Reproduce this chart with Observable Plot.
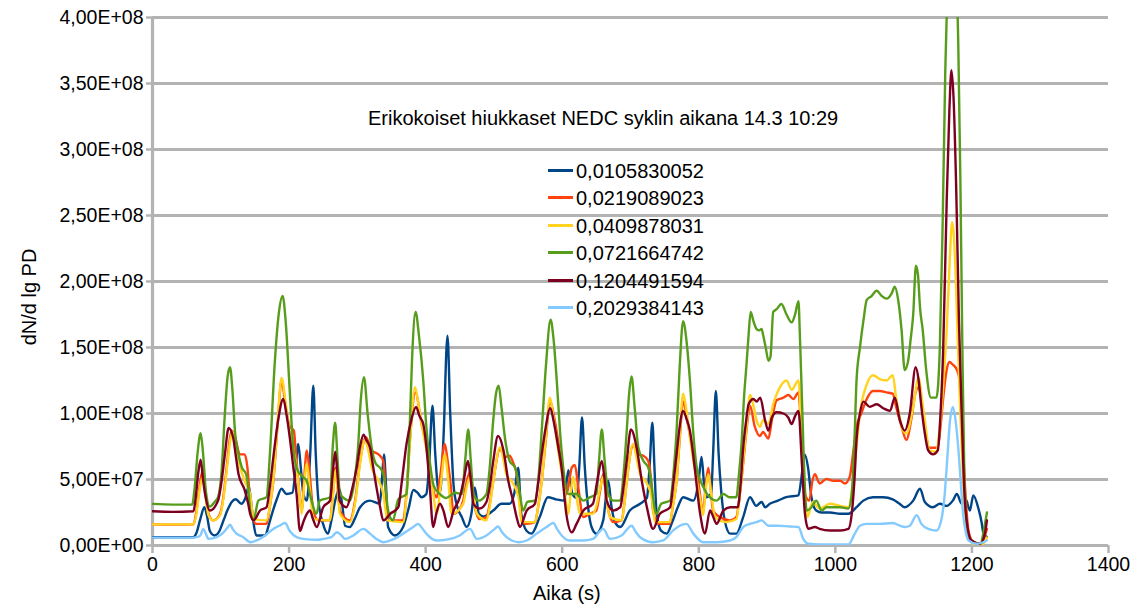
<!DOCTYPE html>
<html><head><meta charset="utf-8">
<script src="https://cdn.jsdelivr.net/npm/d3@7"></script>
<script src="https://cdn.jsdelivr.net/npm/@observablehq/plot@0.6"></script>
<style>
html,body{margin:0;padding:0;background:#fff;}
#wrap{position:relative;width:1146px;height:610px;font-family:"Liberation Sans",Arial,sans-serif;color:#000;}
#wrap svg{position:absolute;left:0;top:0;}
.lbl{position:absolute;font-size:20px;white-space:nowrap;line-height:1;}
.sw{position:absolute;width:25px;height:0;border-top:3.4px solid;}
</style></head><body><div id="wrap"></div>
<script>
const seriesNames = ["0,0105830052","0,0219089023","0,0409878031","0,0721664742","0,1204491594","0,2029384143"];
const seriesColors = ["#004586","#ff420e","#ffd320","#579d1c","#7e0021","#83caff"];
const chartTitle = "Erikokoiset hiukkaset NEDC syklin aikana 14.3 10:29";
const xTitle = "Aika (s)";
const yTitle = "dN/d lg PD";
const xTicks = [0,200,400,600,800,1000,1200,1400];
const yTicks = [0,5e7,1e8,1.5e8,2e8,2.5e8,3e8,3.5e8,4e8];
const unit = 1e7; // values below are in units of 1e7

const s1 = [[0,0.63],[30,0.62],[60,0.63],[64,0.9],[70,2.0],[76,2.9],[80,2.2],[84,1.1],[91,0.76],[98,1.1],[104,1.9],[110,2.7],[116,3.3],[122,3.5],[130,3.16],[136,3.6],[141,4.5],[145,3.0],[148,1.7],[152,0.76],[165,0.76],[170,1.5],[175,2.4],[182,3.5],[189,4.3],[196,3.9],[205,4.0],[209,5.5],[213.5,7.7],[217,6],[221,3.9],[226,3.4],[231,7],[235.5,12.1],[239,7],[243,3.4],[250,1.6],[257,0.9],[262,1.9],[268,3.5],[273.5,4.3],[278,3],[282,1.5],[289,1.4],[296,2.0],[304,2.9],[318,3.4],[333,3.16],[336,5],[339,6.9],[342,4.5],[345,1.4],[355,0.76],[367,1.4],[375,2.8],[382,4.2],[388,4.0],[394,3.66],[401,3.9],[405,6],[410,10.6],[414,7],[418,4.4],[421,4.0],[426,8],[432,15.9],[436,10],[441,4.5],[446,3.0],[453,2.15],[460,1.4],[467,2.4],[472,4.4],[478,2.4],[485,2.2],[499,2.65],[511,3.16],[523,3.16],[530,4],[535.5,5.9],[540,2.4],[548,1.1],[555,0.9],[567,2.15],[579,3.66],[591,3.5],[603,3.4],[609,5.7],[615,3.9],[621,3.6],[625,6],[629,9.7],[633,6],[636,3.9],[643,1.4],[650,0.9],[660,1.9],[667.5,4.9],[672,3],[678,1.7],[685,1.4],[699,2.65],[714,3.16],[724,3.6],[728,6],[732,9.3],[735,6],[738,2.65],[745,1.1],[753,0.9],[762,1.9],[770,3.0],[777,3.66],[792,3.4],[800,5],[804,6.7],[808,4.5],[811,3.66],[818,3.9],[821,7],[825,11.7],[829,7],[833,4],[838,1.9],[846,0.9],[855,0.9],[865,2.15],[875,3.66],[884,3.0],[892,3.3],[897,2.9],[904,3.16],[916,3.4],[928,3.66],[946,3.8],[950,5],[955,6.9],[960,5.9],[965,3.66],[972,2.65],[980,2.5],[992,2.5],[1007,2.4],[1019,2.4],[1031,2.9],[1041,3.4],[1055,3.66],[1070,3.66],[1084,3.5],[1094,3.16],[1101,2.9],[1114,3.4],[1124,4.3],[1131,3.3],[1143,2.9],[1153,3.16],[1163,3.0],[1172,3.4],[1178,3.9],[1185,3.16],[1191,3.5],[1197,2.65],[1202,3.8],[1209,2.9],[1214,1.8],[1217,0.9],[1222,0.63]];

const s2 = [[0,1.6],[30,1.58],[60,1.6],[64,2.5],[69,4.5],[73.5,5.7],[77,4.2],[82,2.4],[89,1.9],[99,2.4],[104,3.8],[108.6,5.9],[113,8.0],[116,8.7],[121,8.2],[128,6.9],[135,6.9],[139,5.9],[142,4.0],[145,2.4],[152,1.64],[167,1.64],[172,3.0],[177,4.9],[183,9],[189,12.5],[195,10.5],[201,9.0],[207,8.7],[210,7],[213.5,4.9],[218.5,2.65],[222,5],[226,7.2],[230,5.5],[235.5,2.65],[243,1.9],[260,1.9],[264,3.8],[268,5.9],[271,4.5],[274.5,2.65],[289,1.9],[297,3.5],[304,6.4],[312.6,8.2],[321,7.2],[331,6.9],[338,6.4],[341,4.5],[344,2.4],[353,1.9],[367,1.9],[372,4.0],[377,8],[385,11.6],[394,9.2],[404,6.9],[410,4.5],[416,3.66],[422,5.5],[428,7.7],[432,6.5],[436,4.9],[441,2.4],[448,2.65],[455,3.4],[460,4.8],[465,5.6],[469,4.2],[472,2.9],[479,2.0],[489,2.15],[494,3.2],[499,4.9],[509,7.3],[516,6.7],[523,6.8],[528,6.3],[533,5.5],[536,4.4],[540.6,1.9],[548,1.64],[560,1.77],[565,3.0],[570,4.9],[576,8],[582,10.9],[589,9.5],[597,6.9],[602,5.2],[606.5,3.9],[610,4.8],[614,5.9],[618.6,6.1],[623.5,4.4],[631,2.15],[640,2.4],[650,2.65],[655,4],[660,5.4],[664,4.0],[667.5,2.65],[675,1.77],[687,1.9],[691,3.2],[694.5,4.9],[704,7.6],[711.5,6.9],[719,6.8],[726,6.4],[730,5.0],[733,2.65],[740.6,1.64],[757.6,1.64],[762,3.0],[767.5,4.9],[772,8],[777,10.9],[784,9.2],[792,6.9],[799,4.9],[806.5,2.65],[810,4.5],[814,5.9],[817,4.5],[821,2.65],[831,2.15],[846,1.9],[855,2.15],[860,3.8],[865,6.2],[870,8.8],[875,10.6],[882,9.0],[889.6,8.3],[894,8.6],[902,8.1],[907,9.5],[914,11.0],[924,11.2],[931,11.4],[938.5,11.1],[946,11.6],[951,7.4],[955.5,3.9],[962,3.4],[966,4.8],[970,5.4],[977,4.7],[987,5.05],[997,4.9],[1007,4.9],[1014,4.7],[1021,5.2],[1026,7],[1031,9.0],[1038,10],[1046,11.1],[1055,11.7],[1065,11.7],[1075,11.6],[1084,11.5],[1089,10.5],[1097,9.0],[1104,8],[1111,9.5],[1117,11.5],[1122,12.0],[1127,10.5],[1131,9.0],[1138,7.4],[1150,7.4],[1154,9],[1158,11.2],[1163,13.3],[1167,13.9],[1172,13.7],[1178,13.3],[1182,12.5],[1185,9.5],[1187,7.4],[1191,3.5],[1195,1.1],[1202,0.25],[1212,0.13],[1218,0.6],[1222,1.26]];

const s3 = [[0,1.6],[30,1.6],[60,1.6],[64,2.3],[69,4.2],[73.5,5.2],[77,4.0],[82,2.3],[89,1.9],[99,2.3],[104,3.6],[109,5.8],[114,8.0],[117.5,8.6],[121,7.8],[126,6.4],[135,4.9],[140,4.3],[143,3.9],[146,2.6],[149,2.0],[167,1.9],[172,3.0],[177,5],[183,9.2],[189,12.7],[195,10.8],[201,8.5],[211,5.9],[215,4],[218.5,2.4],[222,4.5],[226,6.2],[230,4.5],[235.5,2.0],[260,1.9],[264,3.6],[268,5.7],[271,4.3],[274.5,2.4],[289,1.77],[297,3.3],[304,6.2],[311,8.0],[316,7.2],[321,5.9],[331,4.9],[338,3.9],[341,2.8],[344,1.9],[367,1.77],[372,3.8],[377,7.8],[384.5,12.0],[390,10.5],[396.5,8.5],[406,5.9],[411,4.0],[416,2.4],[422,4.5],[428,6.9],[433,5.0],[438,2.4],[455,3.16],[460,4.4],[465,5.2],[469,4.0],[475,2.4],[489,1.9],[494,3.0],[499,4.8],[509,7.45],[514,6.5],[518,5.4],[528,4.7],[536,3.66],[540.6,1.77],[560,1.77],[565,3.0],[570,4.8],[576,8.2],[582,11.2],[587,9.8],[592,8],[597,6.2],[601.5,4.9],[605,3.5],[609,2.4],[612,3.8],[616,5.2],[620,4.0],[626,2.4],[645,2.4],[650,3.0],[655,4.2],[660,5.2],[664,3.8],[670,2.15],[687,1.9],[691,3.1],[694.5,4.8],[704,7.7],[709,6.6],[714,5.4],[724,4.7],[731,3.66],[736,1.77],[757.6,1.77],[762,3.0],[767.5,4.9],[772,8.2],[777,11.5],[782,10.2],[787,8.2],[797,4.9],[802,3.5],[806.5,2.3],[810,4.2],[814,5.4],[818,4.0],[824,2.15],[841,1.77],[855,2.0],[860,3.8],[865,6.4],[870,9.0],[875,11.4],[880,10.6],[884.6,9.5],[889.6,9.0],[894,9.5],[902,9.2],[909,10.7],[919,12.0],[928.5,12.5],[936,11.8],[946,12.5],[951,7.4],[955,4.0],[959,2.15],[967,3.3],[977,2.8],[992,3.16],[1007,3.0],[1019,2.9],[1026,4.9],[1031,7.5],[1036,10],[1046,12.2],[1055,12.9],[1065,12.6],[1075,12.5],[1084,12.9],[1089,11.2],[1094,9.8],[1099,8.7],[1104,8.5],[1114,10.5],[1122,12.75],[1127,11.0],[1131,9.5],[1138,7.2],[1148,7.1],[1152,8.5],[1155,10],[1159,13],[1163,16.3],[1167,21],[1171,24.5],[1175,22],[1179,16],[1183,10],[1187,5],[1191,1.8],[1195,0.6],[1200,0.2],[1207,0.05],[1216,0.13],[1222,0.6]];

const s4 = [[0,3.15],[30,3.1],[58,3.1],[62,4.5],[66,7.0],[70.5,8.5],[74,7.0],[78,4.2],[84,2.95],[91,3.3],[96,3.66],[101,5.5],[106,10],[110,12.8],[113.5,13.5],[117,11.8],[121,8.5],[126,6.9],[131,5.9],[137,5.4],[140,4.5],[143,2.65],[148,1.95],[155,3.4],[167,3.66],[172,7],[179,13.8],[185,17.6],[190.6,18.9],[195,17],[201,11.7],[206,7.5],[211,5.9],[218,5.3],[225.7,4.9],[230,4.0],[233,3.4],[240,2.4],[245,3.4],[260,3.66],[264,7.5],[267.5,9.3],[271,6.5],[274.5,3.9],[289,3.4],[296,5.0],[301,7.4],[305,11],[309.7,12.75],[315,10],[321,7.4],[327,6.2],[333,5.9],[338,5.4],[342,4.0],[345,2.65],[352,1.9],[360,3.5],[372,3.9],[376,8],[380,14],[385.3,17.7],[390,16],[396.5,12.5],[401,9],[406,6.4],[412,4.5],[421,3.9],[430,3.6],[443,4.0],[453,3.9],[458,6.5],[462.4,8.8],[466,6.5],[470,3.9],[477,3.4],[489,3.9],[494,6],[499,9.5],[503,11.5],[507,12.1],[511,10.5],[516,8.2],[523,6.4],[531,5.9],[535,5.0],[538,3.9],[543,2.65],[549,3.3],[560,3.4],[565,5],[570,8.7],[576,13.5],[583,17.1],[587,15.8],[592,12.5],[597,8.5],[601.5,5.9],[609,3.9],[621,3.9],[631,3.4],[641,3.66],[650,3.9],[654,6.5],[658,8.8],[662,6.5],[667.5,3.9],[675,3.4],[685,3.4],[690,5.5],[694.5,8.7],[698,11.5],[701.6,12.8],[706,10.5],[711.5,7.4],[719,6.4],[726,5.9],[730,5.0],[733,3.66],[738,2.4],[745,3.16],[758,3.4],[763,5.5],[767.5,8.7],[772,13.5],[777,17.0],[782,15.5],[787,12.5],[792,8.5],[797,5.9],[807,4.4],[816,3.66],[826,3.4],[836,3.9],[845,3.66],[855,3.66],[859,5.5],[863,8],[866,11],[870,13.8],[873,16],[876,17.7],[880,17.0],[884.6,16.4],[888.6,16.3],[892,16.4],[894,16.0],[898,15.0],[902,14.0],[905,14.3],[909,17.7],[914,17.9],[921,18.3],[928.5,17.5],[936,16.9],[941,17.5],[946,18.5],[948,16],[951,11.2],[955,4.9],[958,2.65],[965,2.9],[972,3.4],[980,2.65],[987,2.9],[997,2.9],[1007,2.9],[1019,2.8],[1024,3.9],[1028,8],[1031,12.5],[1036,15],[1041,17.0],[1046,18.6],[1053,18.9],[1060.5,19.3],[1068,18.9],[1075,18.7],[1082.5,19.1],[1087,19.6],[1092,18.6],[1097,16.3],[1101.5,13.3],[1106.6,14.0],[1110,15.5],[1114,17.5],[1118,21.2],[1121,20.5],[1124,18],[1128,16.3],[1133,13.3],[1140,11.2],[1148,11.2],[1153,15],[1157,24],[1161,36],[1164,42],[1170,46],[1176,44],[1180,38],[1183,28],[1186,15],[1189,5],[1195,0.6],[1202,0.25],[1212,0.13],[1219,1.6],[1222,2.5]];

const s5 = [[0,2.6],[30,2.55],[60,2.6],[63,3.5],[67,5.5],[70.5,6.5],[74,5],[77,3.9],[84,2.65],[96,3.4],[101,4.8],[106,6.9],[111.5,8.9],[118,8.2],[122,6.8],[126,5.4],[135,4.2],[140,3.2],[143,2.4],[148,1.9],[157.5,2.65],[167,2.9],[172,4.5],[177,6.7],[184,9.5],[191.5,11.1],[196,10],[201,8.2],[206,6],[211,3.9],[216,1.1],[221,1.8],[226,2.4],[230.6,2.65],[235,2.0],[240.6,1.4],[250,2.9],[260,3.4],[264,5.5],[267.5,7.1],[271,5.3],[274,3.4],[284,2.9],[292,4.2],[299,5.9],[304,7.5],[309,8.4],[313,8.0],[318.6,7.4],[323,6],[328,4.4],[333,3.0],[338,1.9],[348,2.4],[360,2.9],[365,4.8],[372,7.7],[379,9.5],[386,10.5],[391,9.8],[396.5,9.2],[401,7.5],[406,4.5],[411,1.4],[416,2.5],[421,3.16],[426,2.65],[433,1.4],[441,2.65],[450,3.66],[456,5.0],[462,6.4],[466,5.0],[470,3.16],[479,2.8],[489,3.3],[494,4.5],[499,6.4],[506,8.3],[514,7.2],[521,4.9],[528,3.4],[533,2.2],[538,1.4],[548,2.65],[560,3.16],[565,4.8],[570,6.9],[576,9],[582,10.4],[589,9.0],[594,7.5],[599,5.9],[606,2.4],[614,1.0],[621,1.64],[631,2.65],[645,3.16],[651,4.8],[658,6.4],[662,5.0],[665,3.4],[675,2.65],[685,2.9],[690,4.5],[694.5,6.4],[700.6,8.8],[709,7.4],[716.5,4.9],[724,2.9],[733,1.26],[743,2.4],[758,2.9],[763,4.8],[767.5,6.9],[772,9],[777,10.2],[782,9.6],[787,8.7],[794,5.9],[802,2.4],[809,0.9],[816.5,2.65],[821,2.2],[826,1.64],[836,2.65],[846,2.9],[857,2.9],[861,4.5],[865,7.4],[869,9.3],[873,10.7],[880,11.1],[884.6,10.9],[890,11.2],[897,9.5],[902,8.7],[907,9.7],[914,10.1],[924,10],[931,9.7],[936,9.2],[941,9.8],[946,10.2],[951,6.2],[955.5,2.4],[960.5,1.26],[970,1.4],[977,1.26],[992,1.14],[1007,1.14],[1019,1.26],[1024,2.4],[1028,5],[1031,8],[1036,10],[1041,10.9],[1050.5,10.5],[1060.5,10.7],[1070,10.4],[1080,10.2],[1087,11.2],[1094.5,9.5],[1101.5,8.7],[1109,10],[1117.6,13.5],[1122,12.5],[1126,10.5],[1131,8.5],[1136,7.2],[1143,6.9],[1150,7.2],[1154,10],[1158,15],[1163,26],[1167,33],[1170,36],[1173,34],[1177,27],[1181,17],[1185,10],[1189,4],[1192,2.0],[1199,0.4],[1212,0.13],[1219,0.9],[1222,1.9]];

const s6 = [[0,0.6],[30,0.6],[60,0.6],[66,0.65],[70,0.76],[74.4,1.26],[78,0.9],[82,0.5],[94,0.63],[104,1.0],[109,1.3],[113.5,1.57],[118,1.2],[123,0.9],[133,0.63],[143,0.25],[152.5,0.38],[165,0.76],[177,1.26],[186,1.5],[194,1.7],[201,1.1],[211,0.63],[221,0.5],[240.6,0.43],[250,0.5],[262,0.63],[270,1.0],[276,0.8],[282,0.5],[294,0.76],[309,1.26],[318.5,0.9],[328,0.5],[338,0.25],[348,0.38],[358,0.6],[367,0.9],[382,1.4],[389,1.64],[395,1.3],[401,0.9],[416,0.38],[436,0.5],[450,0.76],[465,1.26],[475,0.5],[489,0.76],[500,1.2],[506,1.44],[512,1.0],[518.5,0.63],[536,0.25],[548,0.38],[562.5,0.9],[577,1.4],[587,1.7],[592,1.3],[597,0.9],[611,0.38],[631,0.38],[645,0.5],[660,1.26],[670,0.5],[687,0.76],[701.6,1.5],[708,1.0],[714,0.63],[733,0.25],[748,0.38],[762.5,1.14],[772,1.5],[782,1.64],[792,0.9],[806.5,0.25],[826,0.25],[846,0.38],[855,0.63],[865,1.4],[875,1.64],[884.6,1.77],[892,1.9],[902,1.5],[916,1.5],[933,1.44],[946,1.4],[953,0.5],[960.5,0.13],[977,0.08],[1019,0.08],[1028.5,0.9],[1036,1.5],[1046,1.64],[1065,1.64],[1084,1.7],[1094.5,1.5],[1101.5,1.4],[1109,1.5],[1119,2.3],[1126,1.64],[1136,1.26],[1148,1.14],[1155,1.9],[1160,3.8],[1163,5.9],[1168,9.5],[1172,10.5],[1176,9.5],[1180,7.4],[1184,4.5],[1187,2.4],[1191,1.0],[1195,0.38],[1207,0.13],[1222,0.38]];

const allSeries = [s1,s2,s3,s4,s5,s6];
const rows = [];
allSeries.forEach((arr,i)=>arr.forEach(([t,v])=>rows.push({t, v: v*unit, series: seriesNames[i]})));

function fmtE(v){
  if (v === 0) return "0,00E+00";
  const e = Math.floor(Math.log10(v) + 1e-9);
  const m = v / Math.pow(10, e);
  return m.toFixed(2).replace(".", ",") + "E+" + String(e).padStart(2, "0");
}

const grid = "#b3b3b3";
const chart = Plot.plot({
  width: 1146, height: 610,
  marginLeft: 152, marginRight: 38, marginTop: 17, marginBottom: 65,
  style: {fontFamily: "'Liberation Sans', Arial, sans-serif", fontSize: "19.5px", color: "#000", background: "transparent", overflow: "visible"},
  x: {domain: [0, 1400]},
  y: {domain: [0, 4e8]},
  color: {domain: seriesNames, range: seriesColors},
  marks: [
    Plot.ruleY(yTicks, {stroke: grid, strokeWidth: 3.2}),
    Plot.ruleX([0], {stroke: grid, strokeWidth: 3.2}),
    Plot.axisX({ticks: xTicks, tickSize: 8, tickPadding: 4, stroke: grid, strokeWidth: 2.5, fill: "#000", label: null, tickFormat: d => String(d)}),
    Plot.axisY({ticks: yTicks, tickSize: 6, tickPadding: 3, stroke: grid, strokeWidth: 2.5, fill: "#000", label: null, tickFormat: fmtE}),
    Plot.line(rows, {x: "t", y: "v", z: "series", stroke: "series", strokeWidth: 2.4, curve: "monotone-x", clip: true})
  ]
});
const wrap = document.getElementById("wrap");
wrap.appendChild(chart);

function addLabel(text, left, top, extra) {
  const d = document.createElement("div");
  d.className = "lbl";
  d.textContent = text;
  d.style.left = left + "px";
  d.style.top = top + "px";
  if (extra) Object.assign(d.style, extra);
  wrap.appendChild(d);
  return d;
}
addLabel(chartTitle, 368, 108);
addLabel(xTitle, 533, 583);
addLabel(yTitle, 29, 297, {transform: "translate(-50%,-50%) rotate(-90deg)"});
seriesNames.forEach((name, i) => {
  const cy = 170.7 + 27.4 * i;
  const sw = document.createElement("div");
  sw.className = "sw";
  sw.style.left = "548px";
  sw.style.top = (cy - 1.7) + "px";
  sw.style.borderTopColor = seriesColors[i];
  wrap.appendChild(sw);
  addLabel(name, 576, cy - 9.7);
});
</script></body></html>
